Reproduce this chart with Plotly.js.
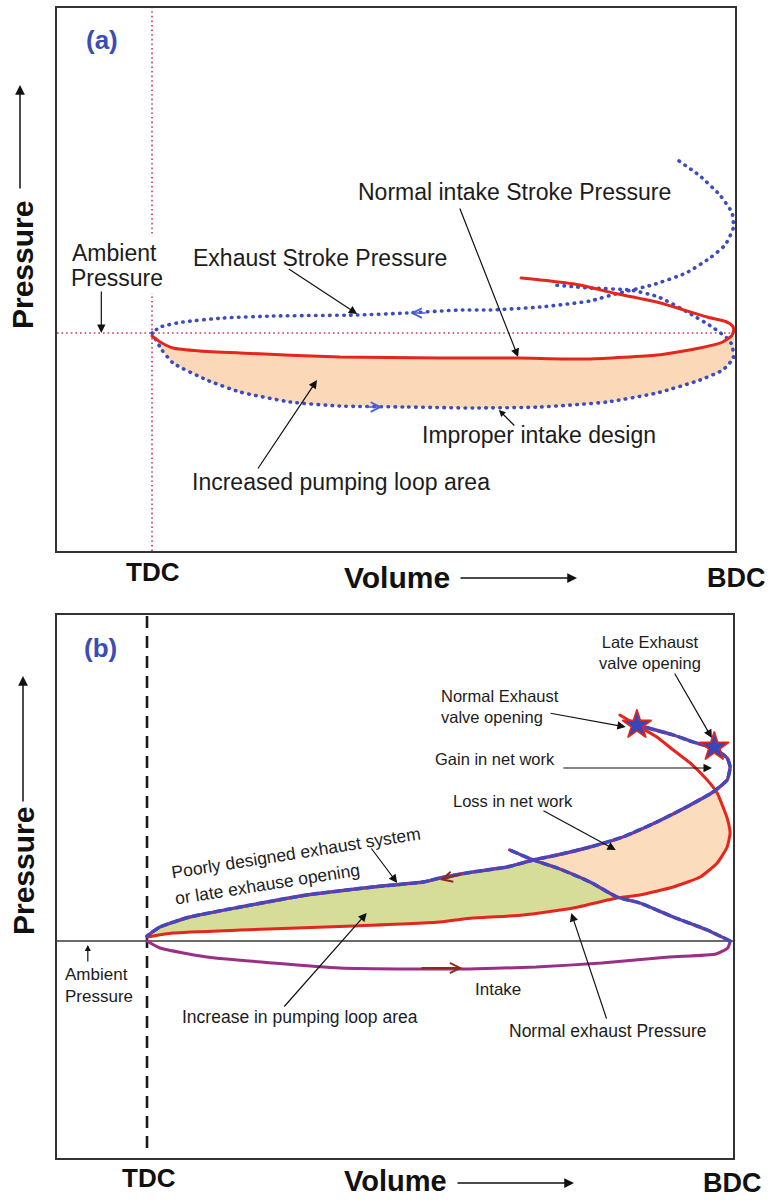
<!DOCTYPE html>
<html>
<head>
<meta charset="utf-8">
<script src="https://cdn.plot.ly/plotly-3.0.1.min.js"></script>
<style>
  html, body { margin: 0; padding: 0; background: #fff; }
  #chart { width: 769px; height: 1200px; }
  .scatterlayer path.js-line { stroke-linecap: round; stroke-linejoin: round; }
</style>
</head>
<body>
<div id="chart"></div>
<script>
// Volume: % of stroke measured from TDC (0) to BDC (100).
// Pressure: arbitrary units relative to ambient pressure (0).

// ---- Panel (a): intake restriction ----
// normal intake stroke (solid red), TDC -> BDC
const aIntakeV = [0, 1.4, 3.6, 8.2, 15.1, 32.2, 49.4, 62.8, 75.1, 86.6, 94.0, 97.9, 99.4, 99.8];
const aIntakeP = [-0.6, -1.8, -3.0, -3.6, -4.0, -4.8, -5.0, -5.0, -5.2, -4.4, -3.0, -1.8, -0.6, 0.6];
// compression start (solid red), BDC -> left
const aComprV = [99.8, 99.5, 98.4, 95.2, 86.6, 79.1, 73.4, 68.3, 63.3];
const aComprP = [0.6, 1.5, 2.3, 3.2, 6.2, 8.0, 9.6, 10.4, 11.0];
// end of expansion + exhaust stroke (blue dots)
const aExhaustV = [90.4, 94.0, 97.4, 99.5, 99.7, 98.3, 95.7, 91.6, 85.8, 80.1, 75.1, 66.6, 58.0, 52.8, 43.7, 35.2, 20.8, 12.2, 5.3, 1.4, 0];
const aExhaustP = [34.4, 31.4, 27.6, 24.0, 21.0, 17.6, 15.0, 12.0, 9.6, 8.0, 6.4, 5.2, 4.6, 4.6, 4.0, 3.6, 3.4, 3.0, 2.2, 1.2, 0];
// intake stroke with improper intake design (blue dots)
const aPoorIntakeV = [0, 1.7, 3.6, 9.4, 15.1, 23.7, 32.2, 43.7, 55.1, 66.6, 78.0, 86.6, 94.0, 97.9, 99.7];
const aPoorIntakeP = [0, -3.4, -6.0, -9.4, -11.8, -13.8, -14.6, -14.8, -15.0, -14.8, -13.8, -12.0, -9.4, -7.4, -5.0];
// following compression (blue dots)
const aPoorComprV = [99.7, 99.5, 98.6, 96.1, 92.1, 86.9, 82.0, 75.1, 69.0];
const aPoorComprP = [-5.0, -2.4, -1.0, 1.2, 4.0, 7.2, 8.6, 9.0, 9.6];

// ---- Panel (b): exhaust restriction ----
// normal exhaust pressure (solid red): blowdown then exhaust stroke
const bNormV = [80.7, 84.1, 87.0, 89.8, 92.7, 95.6, 97.3, 98.3, 99.1, 99.5, 99.0, 97.3, 94.4, 89.8, 84.1, 80.2, 72.7, 64.2, 55.6, 50.0, 35.2, 15.9, 4.4, 0];
const bNormP = [45.2, 42.8, 40.8, 38.2, 35.6, 32.2, 29.6, 26.8, 24.2, 21.6, 18.8, 15.6, 12.8, 10.8, 9.2, 8.6, 6.6, 5.2, 4.6, 3.8, 3.0, 2.2, 1.6, 0.8];
// poorly designed exhaust / late opening (blue-purple dashes)
const bLateV = [83.6, 89.8, 93.2, 96.6, 99.0, 99.5, 99.0, 96.6, 92.7, 87.0, 81.2, 75.6, 70.0, 65.9, 61.4, 55.6, 50.0, 47.1, 38.6, 27.3, 15.9, 7.3, 2.2, 0];
const bLateP = [43.2, 41.2, 39.8, 38.6, 36.6, 34.8, 32.2, 29.8, 27.2, 23.8, 20.8, 18.8, 17.2, 16.2, 14.8, 13.8, 12.6, 11.8, 10.8, 9.2, 6.8, 4.8, 2.8, 1.0];
// intake stroke (purple)
const bIntakeV = [0, 2.2, 10.2, 21.5, 32.9, 45.4, 54.9, 66.4, 77.6, 89.1, 97.1, 99.1, 99.5];
const bIntakeP = [0, -1.4, -3.2, -4.4, -5.4, -5.6, -5.6, -5.2, -4.4, -3.2, -2.6, -1.4, -0.2];
// compression (blue-purple dashes)
const bComprV = [99.5, 95.6, 89.8, 84.1, 80.2, 75.6, 70.0, 65.9, 61.9];
const bComprP = [0, 2.2, 4.8, 7.6, 8.8, 11.8, 14.6, 16.2, 18.2];
// exhaust valve opening points: normal, late
const bEvoV = [83.6, 96.8];
const bEvoP = [43.2, 38.8];

const FONT = 'Liberation Sans, Arial, Helvetica, sans-serif';
const INK = '#1c1c1c';
const RED = '#e4261c';
const BLUE = '#3a4cc0';
const PURPLE = '#9a2f86';
const PINK = '#c8336e';
const BROWN = '#8a2b1d';

const A = { x: 'x', y: 'y' };
const B = { x: 'x2', y: 'y2' };

function curve(ax, xs, ys, color, width, dash) {
  return {
    type: 'scatter', mode: 'lines', x: xs, y: ys, xaxis: ax.x, yaxis: ax.y,
    line: { color: color, width: width, dash: dash || 'solid', shape: 'spline', smoothing: 0.5 },
    hoverinfo: 'skip', showlegend: false
  };
}
function area(ax, xs, ys, color) {
  return {
    type: 'scatter', mode: 'lines', x: xs, y: ys, xaxis: ax.x, yaxis: ax.y,
    fill: 'toself', fillcolor: color, line: { width: 0, color: color, shape: 'spline', smoothing: 0.5 },
    hoverinfo: 'skip', showlegend: false
  };
}
const rev = a => a.slice().reverse();

// continuous strokes joined at BDC
const aRedV = aIntakeV.concat(aComprV.slice(1));
const aRedP = aIntakeP.concat(aComprP.slice(1));
const aPoorV = aPoorIntakeV.concat(aPoorComprV.slice(1));
const aPoorP = aPoorIntakeP.concat(aPoorComprP.slice(1));

// filled regions
const aLoopV = aIntakeV.concat(rev(aPoorIntakeV));
const aLoopP = aIntakeP.concat(rev(aPoorIntakeP));
// pumping-loop increase (green): late exhaust down to TDC, normal exhaust back, compression up
const bGreenV = bLateV.slice(13).concat(rev(bNormV.slice(15)), bComprV.slice(4, 8));
const bGreenP = bLateP.slice(13).concat(rev(bNormP.slice(15)), bComprP.slice(4, 8));
// net work loss (peach)
const bLossV = rev(bLateV.slice(7, 14)).concat(bNormV.slice(6, 16), bComprV.slice(4, 8));
const bLossP = rev(bLateP.slice(7, 14)).concat(bNormP.slice(6, 16), bComprP.slice(4, 8));

const DOTS = '0.5px,6.5px';
const traces = [
  area(A, aLoopV, aLoopP, '#fbd8b8'),
  curve(A, aExhaustV, aExhaustP, BLUE, 3.6, DOTS),
  curve(A, aPoorV, aPoorP, BLUE, 3.6, DOTS),
  curve(A, aRedV, aRedP, RED, 3),

  area(B, bGreenV, bGreenP, '#d5dd98'),
  area(B, bLossV, bLossP, '#fbdcbd'),
  curve(B, bNormV, bNormP, RED, 3),
  curve(B, bIntakeV, bIntakeP, PURPLE, 3),
  curve(B, bLateV, bLateP, PURPLE, 3.4),
  curve(B, bLateV, bLateP, BLUE, 3.4, '6px,5px'),
  curve(B, bComprV, bComprP, PURPLE, 3.4),
  curve(B, bComprV, bComprP, BLUE, 3.4, '6px,5px'),
  {
    type: 'scatter', mode: 'markers', x: bEvoV, y: bEvoP, xaxis: 'x2', yaxis: 'y2',
    marker: { symbol: 'star', size: 22, color: '#3a46b8', line: { color: RED, width: 1.6 } },
    hoverinfo: 'skip', showlegend: false
  }
];

// ---- annotations ----
const ann = [];
function label(ax, x, y, text, size, extra) {
  ann.push(Object.assign({
    xref: ax.x, yref: ax.y, x: x, y: y, text: text, showarrow: false,
    xanchor: 'center', yanchor: 'middle',
    font: { family: FONT, size: size, color: INK }
  }, extra || {}));
}
function pointer(ax, hx, hy, tx, ty, extra) {
  ann.push(Object.assign({
    xref: ax.x, yref: ax.y, axref: ax.x, ayref: ax.y,
    x: hx, y: hy, ax: tx, ay: ty, text: '', showarrow: true,
    arrowhead: 2, arrowsize: 1.4, arrowwidth: 1.2, arrowcolor: '#111', standoff: 0
  }, extra || {}));
}
function paperText(px, py, text, size, extra) {
  ann.push(Object.assign({
    xref: 'paper', yref: 'paper', x: px / 769, y: 1 - py / 1200, text: text, showarrow: false,
    xanchor: 'center', yanchor: 'middle',
    font: { family: FONT, size: size, color: '#111' }
  }, extra || {}));
}
function paperArrow(hx, hy, dx, dy) {
  ann.push({
    xref: 'paper', yref: 'paper', x: hx / 769, y: 1 - hy / 1200, ax: dx, ay: dy,
    text: '', showarrow: true, arrowhead: 2, arrowsize: 1.3, arrowwidth: 1.5, arrowcolor: '#111', standoff: 0
  });
}

// panel (a)
label(A, -8.6, 58.6, '<b>(a)</b>', 26, { font: { family: FONT, size: 26, color: '#3b4cb5' } });
label(A, -14.4, 16.0, 'Ambient', 23, { xanchor: 'left', bgcolor: '#fff', borderpad: 3 });
label(A, -14.4, 11.0, 'Pressure', 23, { xanchor: 'left', bgcolor: '#fff', borderpad: 2 });
label(A, 28.8, 15.0, 'Exhaust Stroke Pressure', 23);
label(A, 62.1, 28.2, 'Normal intake Stroke Pressure', 23);
label(A, 66.4, -20.4, 'Improper intake design', 23);
label(A, 32.4, -29.8, 'Increased pumping loop area', 23);
pointer(A, -8.7, 0, -8.7, 8.6);
pointer(A, 35.2, 3.8, 23.2, 13.0);
pointer(A, 62.8, -4.8, 52.7, 25.2);
pointer(A, 59.5, -15.4, 62.4, -18.8, { arrowsize: 1.1 });
pointer(A, 28.3, -9.4, 18.0, -27.4);
// flow direction marks on the dotted loop
pointer(A, 44.3, 4.0, 47.2, 4.0, { arrowhead: 5, arrowcolor: '#4a5fd0', arrowwidth: 1.5, arrowsize: 1.25 });
pointer(A, 39.5, -14.8, 36.4, -14.8, { arrowhead: 5, arrowcolor: '#4a5fd0', arrowwidth: 1.5, arrowsize: 1.25 });

// panel (b)
label(B, -8.0, 58.6, '<b>(b)</b>', 26, { font: { family: FONT, size: 26, color: '#3b4cb5' } });
label(B, 85.8, 57.8, 'Late Exhaust<br>valve opening', 16.5);
label(B, 49.8, 47.0, 'Normal Exhaust<br>valve opening', 16.5, { xanchor: 'left', align: 'left' });
label(B, 59.4, 36.4, 'Gain in net work', 16.5);
label(B, 62.5, 28.0, 'Loss in net work', 16.5);
label(B, 25.4, 17.6, 'Poorly designed exhaust system', 17.5, { textangle: -9 });
label(B, 20.6, 11.4, 'or late exhause opening', 17.5, { textangle: -9 });
label(B, 26.1, -15.2, 'Increase in pumping loop area', 17.5);
label(B, 59.9, -9.6, 'Intake', 17);
label(B, 78.5, -18.0, 'Normal exhaust Pressure', 17.5);
label(B, -14.3, -8.8, 'Ambient<br>Pressure', 17, { xanchor: 'left', align: 'left' });
pointer(B, 96.4, 40.6, 89.9, 53.8);
pointer(B, 81.7, 42.8, 68.6, 45.6);
pointer(B, 96.4, 34.6, 70.8, 34.6);
pointer(B, 80.0, 18.2, 67.4, 26.2);
pointer(B, 42.7, 11.6, 38.1, 18.8);
pointer(B, 37.5, 5.6, 23.2, -13.4);
pointer(B, 72.4, 5.6, 78.5, -15.8);
pointer(B, -10.1, -0.8, -10.1, -4.4, { arrowsize: 1.0 });
pointer(B, 50.0, 12.2, 53.8, 13.4, { arrowhead: 5, arrowcolor: BROWN, arrowwidth: 2, arrowsize: 1.0 });
pointer(B, 53.8, -5.4, 46.6, -5.4, { arrowhead: 5, arrowcolor: BROWN, arrowwidth: 2, arrowsize: 1.0 });

// outer axis captions
paperText(22, 265, '<b>Pressure</b>', 30, { textangle: -90 });
paperArrow(20, 85, 0, 105);
paperText(153, 572, '<b>TDC</b>', 26);
paperText(397, 577, '<b>Volume</b>', 30);
paperArrow(577, 578, -118, 0);
paperText(736, 578, '<b>BDC</b>', 27);

paperText(23, 871, '<b>Pressure</b>', 30, { textangle: -90 });
paperArrow(23, 676, 0, 127);
paperText(149, 1178, '<b>TDC</b>', 26);
paperText(395, 1181, '<b>Volume</b>', 29);
paperArrow(574, 1183, -118, 0);
paperText(732, 1183, '<b>BDC</b>', 27);

// reference lines: TDC and ambient pressure
const shapes = [
  { type: 'line', xref: 'x', yref: 'y domain', x0: 0, x1: 0, y0: 0, y1: 1, layer: 'below',
    line: { color: PINK, width: 1.6, dash: '1.6px,3px' } },
  { type: 'line', xref: 'x domain', yref: 'y', x0: 0, x1: 1, y0: 0, y1: 0, layer: 'below',
    line: { color: PINK, width: 1.6, dash: '1.6px,3px' } },
  { type: 'line', xref: 'x2', yref: 'y2', x0: 0, x1: 0, y0: 65.0, y1: -41.4, layer: 'below',
    line: { color: '#1a1a1a', width: 2.6, dash: '12px,8px' } },
  { type: 'line', xref: 'x2 domain', yref: 'y2', x0: 0, x1: 1, y0: 0, y1: 0, layer: 'below',
    line: { color: '#3a3a3a', width: 1.6 } }
];

function axis(domain, range, anchor) {
  return {
    domain: domain, range: range, anchor: anchor,
    showgrid: false, zeroline: false, showticklabels: false, ticks: '',
    showline: true, mirror: true, linecolor: '#333', linewidth: 2, fixedrange: true
  };
}

const layout = {
  width: 769, height: 1200,
  margin: { l: 0, r: 0, t: 0, b: 0 },
  paper_bgcolor: '#fff', plot_bgcolor: '#fff',
  showlegend: false,
  xaxis: axis([57 / 769, 735 / 769], [-16.3, 100.0], 'y'),
  yaxis: axis([1 - 551 / 1200, 1 - 8 / 1200], [-43.6, 65.0], 'x'),
  xaxis2: axis([57 / 769, 733 / 769], [-15.36, 100.0], 'y2'),
  yaxis2: axis([1 - 1158 / 1200, 1 - 615 / 1200], [-43.4, 65.2], 'x2'),
  shapes: shapes,
  annotations: ann
};

Plotly.newPlot('chart', traces, layout, { displayModeBar: false, staticPlot: true });
</script>
</body>
</html>
